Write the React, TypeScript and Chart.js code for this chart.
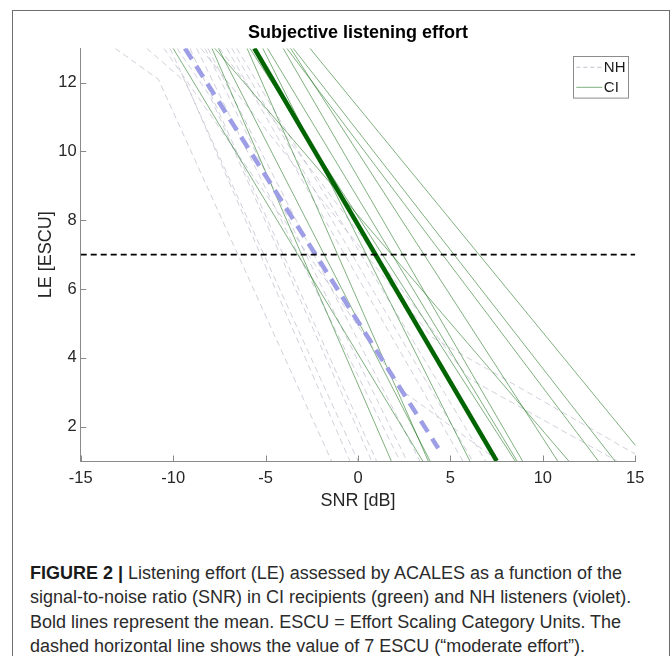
import React, { useEffect, useRef } from 'react';
import { Chart, registerables } from 'chart.js';

Chart.register(...registerables);

// ---- data ----
const X_TICKS = [-15, -10, -5, 0, 5, 10, 15];
const Y_TICKS = [2, 4, 6, 8, 10, 12];
const X_MIN = -15;
const X_MAX = 15;
const Y_MIN = 1;
const Y_MAX = 13;
const THRESHOLD_ESCU = 7;

const TITLE = 'Subjective listening effort';
const X_LABEL = 'SNR [dB]';
const Y_LABEL = 'LE [ESCU]';
const LEGEND_LABELS = ['NH', 'CI'];

// mean fits [SNR, LE]
const CI_MEAN = [[-5.61, 13], [7.5, 1]];
const NH_MEAN = [[-9.36, 13], [4.34, 1.37]];

// individual CI recipients [SNR, LE]
const CI_LINES = [
  [[-10.0, 13], [3.5, 1]],
  [[-7.9, 13], [1.8, 1]],
  [[-7.75, 13], [11.4, 1]],
  [[-7.55, 13], [3.9, 1]],
  [[-6.0, 13], [3.8, 1]],
  [[-5.85, 13], [8.5, 1]],
  [[-5.15, 13], [6.05, 1]],
  [[-4.9, 13], [8.6, 1]],
  [[-4.05, 13], [8.9, 1]],
  [[-3.85, 13], [13.0, 1]],
  [[-3.65, 13], [10.8, 1]],
  [[-3.5, 13], [13.9, 1]],
  [[-2.6, 13], [15.7, 1]],
];

// individual NH listeners [SNR, LE]
const NH_LINES = [
  [[-13.14, 13], [-10.8, 12.1], [-1.43, 1]],
  [[-11.43, 13], [-9.3, 12.0], [-0.44, 1]],
  [[-10.17, 13], [0.0, 1]],
  [[-9.79, 13], [-8.0, 11.6], [0.74, 1]],
  [[-9.09, 13], [1.0, 1]],
  [[-8.73, 13], [2.27, 1]],
  [[-8.28, 13], [2.65, 1]],
  [[-8.12, 13], [3.35, 1]],
  [[-7.1, 13], [5.67, 1]],
  [[-6.83, 13], [6.2, 1]],
  [[-6.56, 13], [6.9, 1]],
  [[-8.5, 13], [4.0, 4.6], [15, 1.2]],
  [[-7.5, 13], [6.0, 3.4], [14.0, 1]],
  [[-10.5, 13], [2.5, 3.0], [7.6, 1]],
];

// ---- styles ----
const FONT = '"Liberation Sans", Arial, Helvetica, sans-serif';
const AXIS_COLOR = '#8a8a8a';
const CI_COLOR = 'rgba(0, 100, 0, 0.5)';
const NH_COLOR = 'rgba(170, 170, 190, 0.55)';
const CI_MEAN_COLOR = '#006400';
const NH_MEAN_COLOR = '#9e9ee6';

const toPts = (line: number[][]) => line.map(([x, y]) => ({ x, y }));

const inwardTicks = {
  id: 'inwardTicks',
  afterDatasetsDraw(chart: any) {
    const { ctx, chartArea: a, scales } = chart;
    const xs = scales.x;
    const ys = scales.y;
    ctx.save();
    ctx.strokeStyle = AXIS_COLOR;
    ctx.lineWidth = 1;
    ctx.beginPath();
    for (const t of X_TICKS) {
      const px = Math.round(xs.getPixelForValue(t)) + 0.5;
      ctx.moveTo(px, a.bottom);
      ctx.lineTo(px, a.bottom - 5.5);
    }
    for (const t of Y_TICKS) {
      const py = Math.round(ys.getPixelForValue(t)) + 0.5;
      ctx.moveTo(a.left, py);
      ctx.lineTo(a.left + 5.5, py);
    }
    ctx.stroke();
    ctx.restore();
  },
};

const boxLegend = {
  id: 'boxLegend',
  afterDraw(chart: any) {
    const { ctx, chartArea: a } = chart;
    const w = 55;
    const h = 41.6;
    const left = a.right - 7 - w;
    const top = a.top + 7.4;
    ctx.save();
    ctx.fillStyle = '#ffffff';
    ctx.fillRect(left, top, w, h);
    ctx.strokeStyle = '#8c8c8c';
    ctx.lineWidth = 1;
    ctx.strokeRect(Math.round(left) + 0.5, Math.round(top) + 0.5, w, h);
    const rows = [
      { y: top + 11.6, color: 'rgba(170,170,190,0.7)', dash: [4, 3] },
      { y: top + 31.6, color: CI_COLOR, dash: [] },
    ];
    rows.forEach((r, i) => {
      ctx.beginPath();
      ctx.setLineDash(r.dash);
      ctx.strokeStyle = r.color;
      ctx.lineWidth = 1;
      ctx.moveTo(left + 3, r.y);
      ctx.lineTo(left + 29, r.y);
      ctx.stroke();
      ctx.setLineDash([]);
      ctx.fillStyle = '#1a1a1a';
      ctx.font = `15px ${FONT}`;
      ctx.textBaseline = 'middle';
      ctx.textAlign = 'left';
      ctx.fillText(LEGEND_LABELS[i], left + 30.5, r.y + 0.5);
    });
    ctx.restore();
  },
};

function ListeningChart() {
  const ref = useRef<HTMLCanvasElement>(null);
  useEffect(() => {
    if (!ref.current) return;
    const datasets: any[] = [];
    datasets.push({
      data: toPts([[X_MIN, THRESHOLD_ESCU], [X_MAX, THRESHOLD_ESCU]]),
      borderColor: '#000000',
      borderWidth: 1.8,
      borderDash: [6, 4],
    });
    datasets.push({
      data: toPts(CI_MEAN),
      borderColor: CI_MEAN_COLOR,
      borderWidth: 4.5,
    });
    datasets.push({
      data: toPts(NH_MEAN),
      borderColor: NH_MEAN_COLOR,
      borderWidth: 4.5,
      borderDash: [13, 8],
    });
    CI_LINES.forEach((l) =>
      datasets.push({ data: toPts(l), borderColor: CI_COLOR, borderWidth: 1 })
    );
    NH_LINES.forEach((l) =>
      datasets.push({ data: toPts(l), borderColor: NH_COLOR, borderWidth: 1, borderDash: [6, 4] })
    );
    datasets.forEach((d) => {
      d.pointRadius = 0;
      d.tension = 0;
      d.fill = false;
    });

    const chart = new Chart(ref.current, {
      type: 'line',
      data: { datasets },
      options: {
        animation: false,
        responsive: false,
        maintainAspectRatio: false,
        events: [],
        layout: { padding: { left: 30.7, right: 36.7, top: 0, bottom: 0 } },
        plugins: {
          legend: { display: false },
          tooltip: { enabled: false },
          title: {
            display: true,
            text: TITLE,
            fullSize: false,
            color: '#000000',
            font: { family: FONT, size: 18, weight: 'bold', lineHeight: 1.2 },
            padding: { top: 22.2, bottom: 4.5 },
          },
        },
        scales: {
          x: {
            type: 'linear',
            min: X_MIN,
            max: X_MAX,
            afterBuildTicks: (s: any) => {
              s.ticks = X_TICKS.map((v) => ({ value: v }));
            },
            afterFit: (s: any) => {
              s.height = 69;
            },
            grid: { display: false, drawTicks: false },
            border: { display: true, color: AXIS_COLOR, width: 1 },
            ticks: {
              color: '#262626',
              font: { family: FONT, size: 16.5 },
              padding: 8,
              maxRotation: 0,
              autoSkip: false,
            },
            title: {
              display: true,
              text: X_LABEL,
              color: '#262626',
              font: { family: FONT, size: 18, lineHeight: 1.2 },
              padding: { top: 0, bottom: 18.2 },
            },
          },
          y: {
            type: 'linear',
            min: Y_MIN,
            max: Y_MAX,
            afterBuildTicks: (s: any) => {
              s.ticks = Y_TICKS.map((v) => ({ value: v }));
            },
            afterFit: (s: any) => {
              s.width = 50;
            },
            grid: { display: false, drawTicks: false },
            border: { display: true, color: AXIS_COLOR, width: 1 },
            ticks: {
              color: '#262626',
              font: { family: FONT, size: 16.5 },
              padding: 4,
              autoSkip: false,
            },
            title: {
              display: true,
              text: Y_LABEL,
              color: '#262626',
              font: { family: FONT, size: 18, lineHeight: 1.2 },
              padding: { top: 4.5, bottom: 0 },
            },
          },
        },
      },
      plugins: [inwardTicks, boxLegend],
    });
    return () => chart.destroy();
  }, []);
  return (
    <canvas
      ref={ref}
      width={672}
      height={530}
      style={{ position: 'absolute', left: 0, top: 0, width: 672, height: 530 }}
    />
  );
}

const CAPTION_LINES = [
  'Listening effort (LE) assessed by ACALES as a function of the',
  'signal-to-noise ratio (SNR) in CI recipients (green) and NH listeners (violet).',
  'Bold lines represent the mean. ESCU = Effort Scaling Category Units. The',
  'dashed horizontal line shows the value of 7 ESCU (“moderate effort”).',
];

export default function App() {
  return (
    <div
      style={{
        position: 'fixed',
        left: 0,
        top: 0,
        width: 672,
        height: 656,
        overflow: 'hidden',
        background: '#ffffff',
      }}
    >
      <div
        style={{
          position: 'absolute',
          left: 12,
          top: 10,
          width: 656,
          height: 700,
          border: '1.6px solid #6e6e6e',
        }}
      />
      <ListeningChart />
      <div
        style={{
          position: 'absolute',
          left: 30,
          top: 560.5,
          fontFamily: FONT,
          fontSize: 18,
          lineHeight: '24.5px',
          color: '#2b2b2b',
          whiteSpace: 'nowrap',
        }}
      >
        {CAPTION_LINES.map((t, i) => (
          <div key={i}>
            {i === 0 ? <b style={{ color: '#1a1a1a' }}>FIGURE 2 | </b> : null}
            {t}
          </div>
        ))}
      </div>
    </div>
  );
}
